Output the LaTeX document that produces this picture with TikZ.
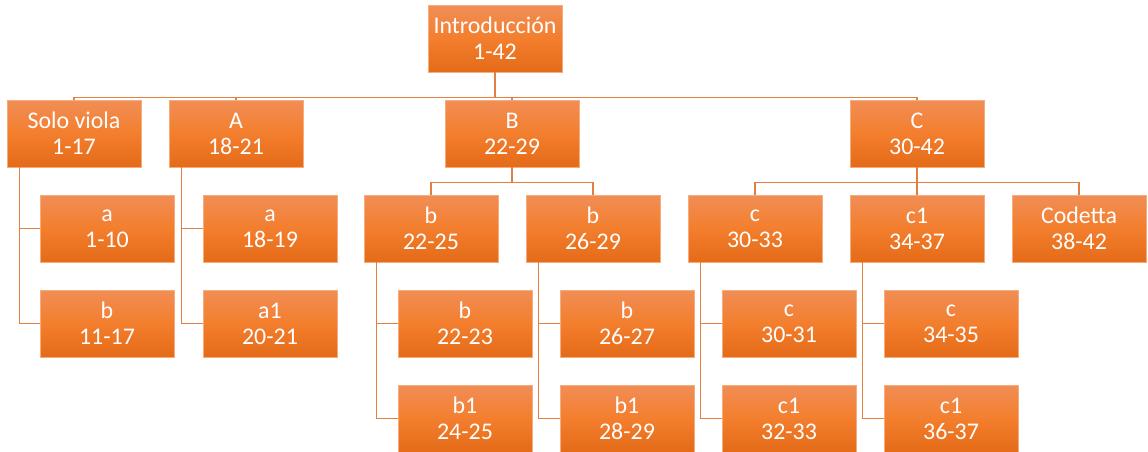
\documentclass[tikz,border=0pt]{standalone}
\usepackage{fontspec}
\setmainfont{Carlito}
\usetikzlibrary{calc,shadings}
\definecolor{boxtop}{RGB}{241,142,86}
\definecolor{boxmid}{RGB}{243,126,45}
\definecolor{boxbot}{RGB}{228,107,24}
\definecolor{boxedge}{RGB}{246,172,124}
\definecolor{linkcol}{RGB}{226,128,66}
\begin{document}
\begin{tikzpicture}[x=0.02cm,y=-0.02cm,
            every node/.style={inner sep=2pt},
            part/.style={top color=boxtop,bottom color=boxbot,middle color=boxmid,
              draw=boxedge,line width=0.4pt,text=white,align=center,
              minimum width=2.68cm,minimum height=1.34cm,
              font=\fontsize{13.6}{14.8}\selectfont},
            link/.style={draw=linkcol,line width=0.8pt}]
            \useasboundingbox(0,0)rectangle(1148,451);
            % nivel 0 y 1
            \node[part](intro)at(495,38.5){Introducción\\1-42};
            \node[part](solo)at(74,133.5){Solo viola\\1-17};
            \node[part](secA)at(236,133.5){A\\18-21};
            \node[part](secB)at(512,133.5){B\\22-29};
            \node[part](secC)at(917,133.5){C\\30-42};
            % nivel 2
            \node[part](soloa)at(107,228.5){a\\1-10};
            \node[part](solob)at(107,323.5){b\\11-17};
            \node[part](Aa)at(270,228.5){a\\18-19};
            \node[part](Aai)at(270,323.5){a1\\20-21};
            \node[part](Bb)at(431,228.5){b\\22-25};
            \node[part](Bbb)at(593,228.5){b\\26-29};
            \node[part](Cc)at(755,228.5){c\\30-33};
            \node[part](Cci)at(917,228.5){c1\\34-37};
            \node[part](coda)at(1079,228.5){Codetta\\38-42};
            % nivel 3
            \node[part](Bbx)at(465,323.5){b\\22-23};
            \node[part](Bbxi)at(465,418.5){b1\\24-25};
            \node[part](Bby)at(627,323.5){b\\26-27};
            \node[part](Bbyi)at(627,418.5){b1\\28-29};
            \node[part](Ccx)at(789,323.5){c\\30-31};
            \node[part](Ccxi)at(789,418.5){c1\\32-33};
            \node[part](Ccy)at(951,323.5){c\\34-35};
            \node[part](Ccyi)at(951,418.5){c1\\36-37};
            % conectores
            \foreach \n in {solo,secA,secB,secC}
              \draw[link](intro.south)--++(0,25)-|(\n.north);
            \foreach \n in {Bb,Bbb}
              \draw[link](secB.south)--++(0,15)-|(\n.north);
            \foreach \n in {Cc,Cci,coda}
              \draw[link](secC.south)--++(0,15)-|(\n.north);
            \foreach \p/\a/\b in {solo/soloa/solob,secA/Aa/Aai,Bb/Bbx/Bbxi,
                Bbb/Bby/Bbyi,Cc/Ccx/Ccxi,Cci/Ccy/Ccyi}{
              \draw[link]([xshift=0.26cm]\p.south west)|-(\a.west);
              \draw[link]([xshift=0.26cm]\p.south west)|-(\b.west);
            }
          \end{tikzpicture}
\end{document}
